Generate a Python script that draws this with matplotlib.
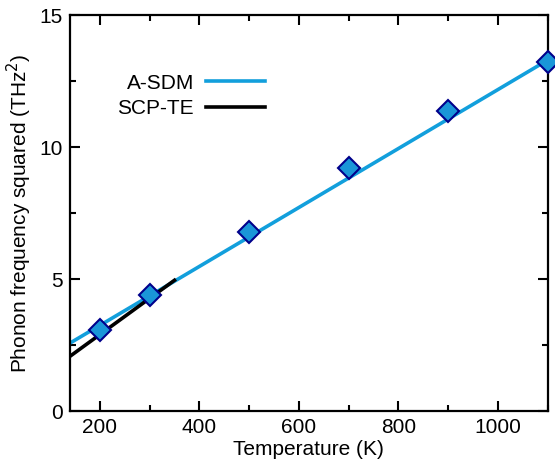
import matplotlib.pyplot as plt
from matplotlib.ticker import MultipleLocator

plt.rcParams["font.family"] = ["Liberation Sans", "DejaVu Sans"]

# A-SDM data points
temps = [200, 300, 500, 700, 900, 1100]
freq_sq = [3.07, 4.40, 6.78, 9.20, 11.36, 13.22]

# fitted lines (endpoints)
asdm_fit_x = [140, 1100]
asdm_fit_y = [2.58, 13.30]
scpte_x = [140, 350]
scpte_y = [2.08, 4.96]

BLUE = "#129fdc"
FACE = "#1a96d8"
EDGE = "#00008b"
FS = 15

fig = plt.figure(figsize=(5.55, 4.59), dpi=100)
ax = fig.add_axes([0.126, 0.104, 0.861, 0.863])

ax.plot(asdm_fit_x, asdm_fit_y, color=BLUE, lw=2.6, label="A-SDM", zorder=2)
ax.plot(scpte_x, scpte_y, color="black", lw=2.6, label="SCP-TE", zorder=3)
ax.plot(temps, freq_sq, ls="none", marker="D", ms=11.5, mfc=FACE, mec=EDGE,
        mew=1.5, clip_on=False, zorder=4)

ax.set_xlim(140, 1100)
ax.set_ylim(0, 15)
ax.xaxis.set_major_locator(MultipleLocator(200))
ax.xaxis.set_minor_locator(MultipleLocator(100))
ax.yaxis.set_major_locator(MultipleLocator(5))
ax.yaxis.set_minor_locator(MultipleLocator(2.5))
ax.tick_params(which="both", direction="in", top=True, right=True,
               labelsize=FS, width=1.5)
ax.tick_params(which="major", length=7, pad=5)
ax.tick_params(which="minor", length=4)
for s in ax.spines.values():
    s.set_linewidth(1.6)

ax.set_xlabel("Temperature (K)", fontsize=FS, labelpad=2)
ax.set_ylabel("Phonon frequency squared (THz$^2$)", fontsize=FS, labelpad=4)

ax.legend(loc="upper right", bbox_to_anchor=(0.447, 0.9), frameon=False,
          markerfirst=False, fontsize=FS, handlelength=2.8,
          handletextpad=0.6, labelspacing=0.33)

fig.savefig("out.png", dpi=100)
